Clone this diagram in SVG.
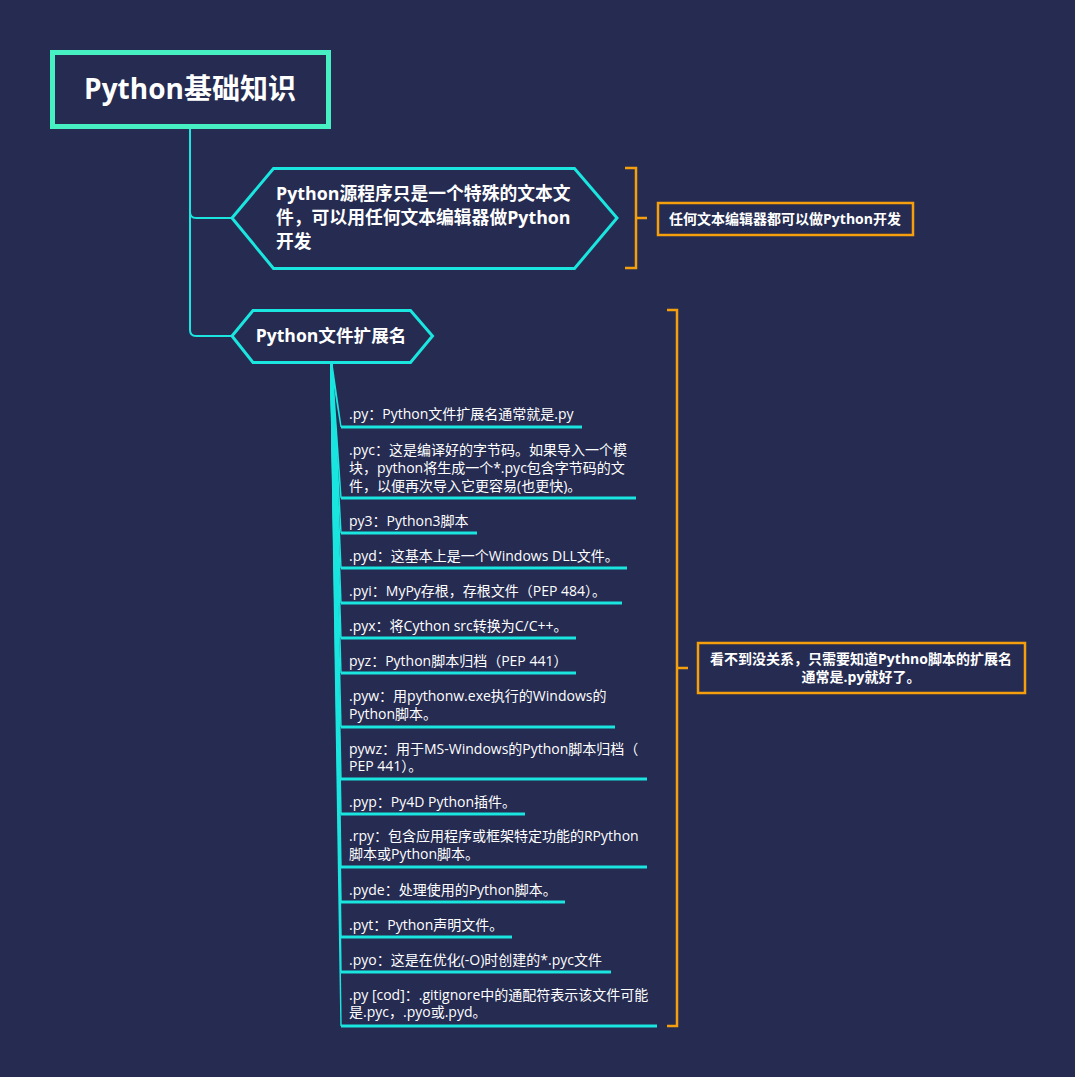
<svg xmlns="http://www.w3.org/2000/svg" width="1075" height="1077" viewBox="0 0 1075 1077">
<style>
.bg{fill:#252b51}
.title{fill:#252b51;stroke:#47f0c2;stroke-width:5}
.hex{fill:#252b51;stroke:#1be5df;stroke-width:3;stroke-linejoin:miter}
.conn{fill:none;stroke:#1be5df;stroke-width:2}
.fan{fill:#1be5df}
.ul{stroke:#1be5df;stroke-width:3}
.call{fill:#252b51;stroke:#f59f0c;stroke-width:2.5}
.brk{fill:none;stroke:#f59f0c;stroke-width:2.5}
text{font-family:"Open Sans","Noto Sans CJK SC",sans-serif;fill:#ffffff}
.t0{font-size:28px;font-weight:bold}
.t1{font-size:17.8px;font-weight:bold}
.t2{font-size:17.6px;font-weight:bold}
.tc{font-size:14px;font-weight:bold}
.ti{font-size:14px}
</style>
<rect class="bg" x="0" y="0" width="1075" height="1077"/>
<g id="connectors">
<path class="conn" d="M190,128 V212 Q190,218 196,218 H232"/>
<path class="conn" d="M190,128 V330 Q190,336 196,336 H232"/>
<polygon class="fan" points="330,363 332.5,363 341.7,427 340.3,427"/>
<polygon class="fan" points="330,363 332.5,363 341.7,498 340.3,498"/>
<polygon class="fan" points="330,363 332.5,363 341.7,533 340.3,533"/>
<polygon class="fan" points="330,363 332.5,363 341.7,568 340.3,568"/>
<polygon class="fan" points="330,363 332.5,363 341.7,603 340.3,603"/>
<polygon class="fan" points="330,363 332.5,363 341.7,638 340.3,638"/>
<polygon class="fan" points="330,363 332.5,363 341.7,673 340.3,673"/>
<polygon class="fan" points="330,363 332.5,363 341.7,727 340.3,727"/>
<polygon class="fan" points="330,363 332.5,363 341.7,779 340.3,779"/>
<polygon class="fan" points="330,363 332.5,363 341.7,814 340.3,814"/>
<polygon class="fan" points="330,363 332.5,363 341.7,867 340.3,867"/>
<polygon class="fan" points="330,363 332.5,363 341.7,902 340.3,902"/>
<polygon class="fan" points="330,363 332.5,363 341.7,937 340.3,937"/>
<polygon class="fan" points="330,363 332.5,363 341.7,972 340.3,972"/>
<polygon class="fan" points="330,363 332.5,363 341.7,1026 340.3,1026"/>
<path class="brk" d="M625,168 H636 V268 H625 M636,218 H647"/>
<path class="brk" d="M667,310 H677 V1026 H667 M677,668 H688"/>
</g>
<g id="root">
<rect class="title" x="52.5" y="52.5" width="276" height="74"/>
<text class="t0" x="190" y="99" text-anchor="middle">Python基础知识</text>
</g>
<g id="topic1">
<polygon class="hex" points="232,218 273.5,168.5 574.5,168.5 617,218 574.5,268.5 273.5,268.5"/>
<text class="t1" x="276" y="200">Python源程序只是一个特殊的文本文</text>
<text class="t1" x="276" y="224">件，可以用任何文本编辑器做Python</text>
<text class="t1" x="276" y="248">开发</text>
</g>
<g id="note1">
<rect class="call" x="658" y="203" width="255" height="32"/>
<text class="tc" x="785" y="224" text-anchor="middle">任何文本编辑器都可以做Python开发</text>
</g>
<g id="topic2">
<polygon class="hex" points="232,336 253,310.5 410.5,310.5 432.5,336 410.5,362.5 253,362.5"/>
<text class="t2" x="331" y="342" text-anchor="middle">Python文件扩展名</text>
</g>
<g id="note2">
<rect class="call" x="698" y="643" width="327" height="50"/>
<text class="tc" x="861" y="664" text-anchor="middle">看不到没关系，只需要知道Pythno脚本的扩展名</text>
<text class="tc" x="861" y="682" text-anchor="middle">通常是.py就好了。</text>
</g>
<g id="item1"><line class="ul" x1="341" y1="427" x2="582" y2="427"/><text class="ti" x="349" y="419">.py：Python文件扩展名通常就是.py</text></g>
<g id="item2"><line class="ul" x1="341" y1="498" x2="636" y2="498"/><text class="ti" x="349" y="455">.pyc：这是编译好的字节码。如果导入一个模</text><text class="ti" x="349" y="473">块，python将生成一个*.pyc包含字节码的文</text><text class="ti" x="349" y="491">件，以便再次导入它更容易(也更快)。</text></g>
<g id="item3"><line class="ul" x1="341" y1="533" x2="477" y2="533"/><text class="ti" x="349" y="526">py3：Python3脚本</text></g>
<g id="item4"><line class="ul" x1="341" y1="568" x2="627" y2="568"/><text class="ti" x="349" y="561">.pyd：这基本上是一个Windows DLL文件。</text></g>
<g id="item5"><line class="ul" x1="341" y1="603" x2="622" y2="603"/><text class="ti" x="349" y="596">.pyi：MyPy存根，存根文件（PEP 484）。</text></g>
<g id="item6"><line class="ul" x1="341" y1="638" x2="576" y2="638"/><text class="ti" x="349" y="631">.pyx：将Cython src转换为C/C++。</text></g>
<g id="item7"><line class="ul" x1="341" y1="673" x2="576" y2="673"/><text class="ti" x="349" y="666">pyz：Python脚本归档（PEP 441）</text></g>
<g id="item8"><line class="ul" x1="341" y1="727" x2="615" y2="727"/><text class="ti" x="349" y="701">.pyw：用pythonw.exe执行的Windows的</text><text class="ti" x="349" y="718.5">Python脚本。</text></g>
<g id="item9"><line class="ul" x1="341" y1="779" x2="647" y2="779"/><text class="ti" x="349" y="754">pywz：用于MS-Windows的Python脚本归档（</text><text class="ti" x="349" y="771">PEP 441）。</text></g>
<g id="item10"><line class="ul" x1="341" y1="814" x2="525" y2="814"/><text class="ti" x="349" y="807">.pyp：Py4D Python插件。</text></g>
<g id="item11"><line class="ul" x1="341" y1="867" x2="647" y2="867"/><text class="ti" x="349" y="841">.rpy：包含应用程序或框架特定功能的RPython</text><text class="ti" x="349" y="858.5">脚本或Python脚本。</text></g>
<g id="item12"><line class="ul" x1="341" y1="902" x2="565" y2="902"/><text class="ti" x="349" y="894.5">.pyde：处理使用的Python脚本。</text></g>
<g id="item13"><line class="ul" x1="341" y1="937" x2="512" y2="937"/><text class="ti" x="349" y="929.5">.pyt：Python声明文件。</text></g>
<g id="item14"><line class="ul" x1="341" y1="972" x2="611" y2="972"/><text class="ti" x="349" y="965">.pyo：这是在优化(-O)时创建的*.pyc文件</text></g>
<g id="item15"><line class="ul" x1="341" y1="1026" x2="657" y2="1026"/><text class="ti" x="349" y="999.5">.py [cod]：.gitignore中的通配符表示该文件可能</text><text class="ti" x="349" y="1017">是.pyc，.pyo或.pyd。</text></g>
</svg>
